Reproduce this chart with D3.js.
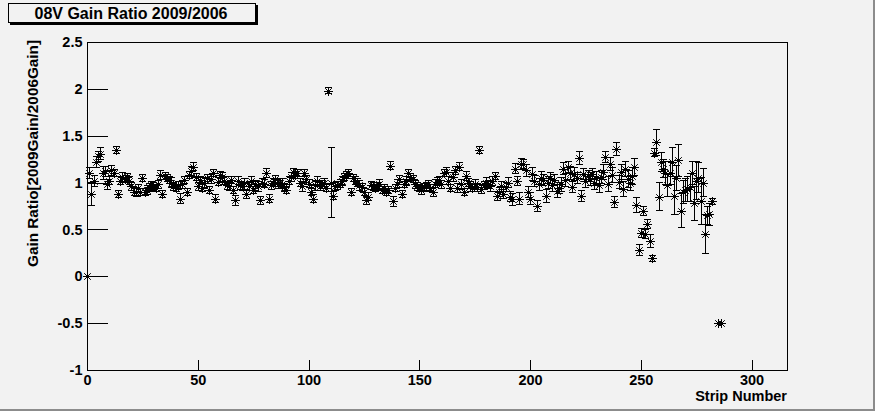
<!DOCTYPE html>
<html>
<head>
<meta charset="utf-8">
<script src="https://cdn.jsdelivr.net/npm/d3@7"></script>
<style>
  body { margin: 0; background: #f2f2f2; }
  svg { display: block; font-family: "Liberation Sans", Arial, sans-serif; }
</style>
</head>
<body>
<svg width="875" height="411"></svg>
<script>
// gain ratio per strip (index = strip number), null = no entry
const gains = [
  0, 1.10, 0.88, 1.02, 1.22, 1.28, 1.31, 1.10, 1.12, 0.98,
  1.02, 1.13, 1.10, 1.35, 0.88, 1.02, 1.06, 1.04, 1.06, 1.02,
  0.96, 0.90, 0.90, 0.94, 0.90, 1.05, 0.90, 0.92, 0.95, 0.97,
  0.96, 0.94, 0.98, 1.08, 0.88, 1.07, 1.05, 1.03, 1.00, 0.96,
  0.94, 0.97, 0.83, 0.98, 1.03, 0.90, 1.08, 1.12, 1.17, 1.06,
  0.96, 1.03, 0.94, 1.00, 1.05, 0.92, 1.04, 1.10, 0.83, 1.01,
  1.08, 1.06, 1.02, 0.97, 0.96, 1.03, 0.92, 0.81, 1.02, 0.97,
  0.96, 1.00, 0.88, 0.96, 1.02, 0.92, 0.98, 0.96, 0.81, 1.00,
  0.99, 1.10, 0.83, 0.97, 1.00, 1.04, 0.98, 1.00, 0.99, 0.95,
  0.92, 1.02, 1.06, 1.11, 1.08, 1.10, 1.00, 0.96, 1.10, 1.04,
  0.99, 0.90, 0.83, 0.97, 1.02, 0.96, 0.98, 1.00, 0.94, 1.98,
  1.00, 0.86, 0.96, 0.97, 0.99, 1.02, 1.06, 1.08, 1.10, 0.90,
  1.05, 1.02, 1.00, 0.97, 0.95, 0.90, 0.81, 0.85, 0.97, 0.96,
  0.94, 0.96, 0.98, 0.92, 0.94, 0.90, 0.92, 1.18, 0.80, 0.94,
  0.99, 1.04, 0.88, 0.99, 1.02, 1.10, 1.06, 1.04, 0.98, 0.96,
  0.94, 0.92, 0.95, 0.96, 0.98, 0.94, 0.90, 0.99, 1.01, 1.03,
  0.98, 1.10, 1.11, 1.02, 0.94, 1.06, 1.13, 0.94, 1.17, 0.98,
  0.90, 1.07, 1.00, 0.96, 0.94, 0.98, 0.95, 1.35, 0.93, 0.97,
  1.00, 0.98, 0.96, 1.02, 1.07, 0.86, 0.90, 0.96, 0.88, 0.95,
  1.00, 0.85, 0.82, 1.15, 1.02, 0.83, 1.20, 1.20, 1.13, 0.90,
  0.83, 1.09, 1.02, 0.75, 0.98, 1.05, 1.03, 0.86, 1.00, 1.05,
  0.97, 1.03, 0.91, 0.94, 0.98, 1.15, 1.03, 1.17, 1.10, 0.95,
  1.09, 1.05, 1.26, 0.86, 1.09, 1.02, 1.07, 1.04, 1.09, 1.00,
  1.05, 0.97, 1.06, 1.11, 1.27, 0.99, 1.20, 1.08, 0.79, 1.36,
  1.01, 1.11, 0.93, 1.15, 1.04, 1.00, 1.07, 1.17, 0.76, 0.28,
  0.46, 0.70, 0.45, 0.56, 0.38, 0.19, 1.32, 1.43, 0.85, 1.22,
  1.15, 1.10, 0.97, 1.10, 1.22, 0.86, 1.05, 1.24, 0.70, 0.90,
  0.92, 0.93, 0.95, 1.10, 0.78, 1.02, 1.05, 0.80, 1.00, 0.45,
  0.65, 0.66, 0.80, null, null, -0.50, -0.50
];

// errors on the ratio, same indexing
const errors = [
  0, 0.06, 0.12, 0.06, 0.06, 0.05, 0.06, 0.07, 0.05, 0.05,
  0.04, 0.05, 0.04, 0.04, 0.04, 0.04, 0.05, 0.04, 0.04, 0.04,
  0.04, 0.04, 0.05, 0.04, 0.04, 0.04, 0.04, 0.05, 0.04, 0.04,
  0.04, 0.04, 0.04, 0.05, 0.04, 0.04, 0.04, 0.04, 0.05, 0.04,
  0.04, 0.04, 0.05, 0.04, 0.04, 0.04, 0.04, 0.05, 0.04, 0.04,
  0.04, 0.04, 0.04, 0.05, 0.04, 0.04, 0.05, 0.04, 0.04, 0.04,
  0.04, 0.05, 0.04, 0.04, 0.04, 0.04, 0.04, 0.05, 0.04, 0.04,
  0.04, 0.04, 0.05, 0.04, 0.04, 0.04, 0.04, 0.05, 0.04, 0.04,
  0.04, 0.05, 0.04, 0.04, 0.04, 0.04, 0.04, 0.04, 0.05, 0.04,
  0.04, 0.04, 0.05, 0.04, 0.04, 0.04, 0.04, 0.05, 0.04, 0.04,
  0.04, 0.04, 0.04, 0.05, 0.04, 0.04, 0.04, 0.04, 0.04, 0.03,
  0.37, 0.04, 0.04, 0.04, 0.04, 0.05, 0.04, 0.04, 0.04, 0.04,
  0.04, 0.04, 0.04, 0.05, 0.04, 0.04, 0.04, 0.04, 0.04, 0.04,
  0.04, 0.04, 0.05, 0.04, 0.04, 0.04, 0.04, 0.04, 0.05, 0.04,
  0.04, 0.04, 0.04, 0.04, 0.05, 0.04, 0.04, 0.04, 0.04, 0.04,
  0.04, 0.05, 0.04, 0.04, 0.04, 0.04, 0.05, 0.04, 0.04, 0.04,
  0.04, 0.04, 0.05, 0.04, 0.04, 0.05, 0.04, 0.05, 0.04, 0.05,
  0.04, 0.05, 0.04, 0.05, 0.04, 0.05, 0.04, 0.04, 0.05, 0.04,
  0.05, 0.04, 0.05, 0.05, 0.04, 0.05, 0.05, 0.05, 0.05, 0.05,
  0.05, 0.05, 0.06, 0.05, 0.05, 0.06, 0.06, 0.05, 0.06, 0.06,
  0.06, 0.07, 0.06, 0.06, 0.06, 0.07, 0.06, 0.07, 0.06, 0.06,
  0.06, 0.06, 0.07, 0.06, 0.07, 0.06, 0.07, 0.06, 0.07, 0.06,
  0.07, 0.06, 0.07, 0.06, 0.06, 0.07, 0.06, 0.07, 0.06, 0.07,
  0.07, 0.08, 0.07, 0.08, 0.06, 0.08, 0.07, 0.08, 0.06, 0.07,
  0.07, 0.08, 0.08, 0.08, 0.09, 0.08, 0.09, 0.09, 0.08, 0.06,
  0.05, 0.05, 0.05, 0.05, 0.07, 0.03, 0.04, 0.14, 0.15, 0.10,
  0.10, 0.12, 0.12, 0.12, 0.15, 0.20, 0.13, 0.17, 0.18, 0.12,
  0.12, 0.13, 0.15, 0.12, 0.18, 0.20, 0.16, 0.25, 0.15, 0.21,
  0.10, 0.12, 0.03, null, null, 0, 0
];

const xTickLabels = [0, 50, 100, 150, 200, 250, 300];
const yTickLabels = [-1, -0.5, 0, 0.5, 1, 1.5, 2, 2.5];

const titleText = "08V Gain Ratio 2009/2006";
const xTitle = "Strip Number";
const yTitle = "Gain Ratio[2009Gain/2006Gain]";

const svg = d3.select("svg");
const W = 875, H = 411;
const frame = { left: 87, right: 787, top: 42, bottom: 370 };

// canvas background + bottom/right border
svg.append("rect").attr("width", W).attr("height", H).attr("fill", "#f2f2f2");
svg.append("rect").attr("x", 0).attr("y", H - 2).attr("width", W).attr("height", 2).attr("fill", "#8c8c8c");
svg.append("rect").attr("x", W - 2).attr("y", 0).attr("width", 2).attr("height", H).attr("fill", "#8c8c8c");

const x = d3.scaleLinear().domain([0, 316]).range([frame.left, frame.right]);
const y = d3.scaleLinear().domain([-1, 2.5]).range([frame.bottom, frame.top]);

// x axis ticks (pointing up, into the frame)
const gx = svg.append("g").attr("transform", `translate(0,${frame.bottom})`);
gx.call(d3.axisBottom(x).tickValues(d3.range(0, 316, 10)).tickSize(-5).tickFormat(""));
gx.call(d3.axisBottom(x).tickValues(xTickLabels).tickSize(-10).tickPadding(5).tickFormat(d3.format("d")));
gx.selectAll(".domain").remove();
gx.selectAll("line").attr("stroke", "#000").attr("shape-rendering", "crispEdges");
gx.selectAll("text").attr("font-size", 14.5).attr("font-weight", "bold").attr("fill", "#000")
  .attr("font-family", "'Liberation Sans', Arial, sans-serif");

// y axis ticks (pointing right)
const gy = svg.append("g").attr("transform", `translate(${frame.left},0)`);
gy.call(d3.axisLeft(y).tickValues(d3.range(-10, 26, 1).map(d => d / 10)).tickSize(-10.5).tickFormat(""));
gy.call(d3.axisLeft(y).tickValues(yTickLabels).tickSize(-21).tickPadding(4.5).tickFormat(d => String(d)));
gy.selectAll(".domain").remove();
gy.selectAll("line").attr("stroke", "#000").attr("shape-rendering", "crispEdges");
gy.selectAll("text").attr("font-size", 14.5).attr("font-weight", "bold").attr("fill", "#000")
  .attr("font-family", "'Liberation Sans', Arial, sans-serif");

// frame
svg.append("rect")
  .attr("x", frame.left + 0.5).attr("y", frame.top + 0.5)
  .attr("width", frame.right - frame.left).attr("height", frame.bottom - frame.top)
  .attr("fill", "none").attr("stroke", "#000").attr("shape-rendering", "crispEdges");

// data
const points = gains
  .map((g, i) => ({ strip: i, value: g, err: errors[i] }))
  .filter(d => d.value !== null);

const plot = svg.append("g");

const cap = 3.5;
plot.selectAll(".err")
  .data(points.filter(d => d.err > 0))
  .enter()
  .append("path")
  .attr("class", "err")
  .attr("d", d => {
    const cx = Math.round(x(d.strip)) + 0.5;
    const y1 = y(d.value + d.err), y2 = y(d.value - d.err);
    return `M${cx},${y1}V${y2}M${cx - cap},${y1}H${cx + cap}M${cx - cap},${y2}H${cx + cap}`;
  })
  .attr("stroke", "#000")
  .attr("stroke-width", 1)
  .attr("fill", "none")
  .attr("shape-rendering", "crispEdges");

const starPath = "M-4.5,0H4.5M0,-4.5V4.5M-3.3,-3.3L3.3,3.3M-3.3,3.3L3.3,-3.3";
plot.selectAll(".mk")
  .data(points)
  .enter()
  .append("path")
  .attr("class", "mk")
  .attr("transform", d => `translate(${Math.round(x(d.strip)) + 0.5},${Math.round(y(d.value)) + 0.5})`)
  .attr("d", starPath)
  .attr("stroke", "#000")
  .attr("stroke-width", 1)
  .attr("fill", "none");

// axis titles
svg.append("text")
  .attr("x", frame.right)
  .attr("y", 401)
  .attr("text-anchor", "end")
  .attr("font-size", 14.5)
  .attr("font-weight", "bold")
  .text(xTitle);

svg.append("text")
  .attr("transform", `translate(37.5,${frame.top - 2}) rotate(-90)`)
  .attr("text-anchor", "end")
  .attr("font-size", 15.3)
  .attr("font-weight", "bold")
  .text(yTitle);

// title box with shadow
svg.append("rect").attr("x", 10).attr("y", 5).attr("width", 248).attr("height", 20).attr("fill", "#000");
svg.append("rect").attr("x", 8.5).attr("y", 3.5).attr("width", 247).attr("height", 19)
  .attr("fill", "#f2f2f2").attr("stroke", "#000").attr("shape-rendering", "crispEdges");
svg.append("text")
  .attr("x", 131)
  .attr("y", 18.5)
  .attr("text-anchor", "middle")
  .attr("font-size", 16)
  .attr("font-weight", "bold")
  .text(titleText);
</script>
</body>
</html>
